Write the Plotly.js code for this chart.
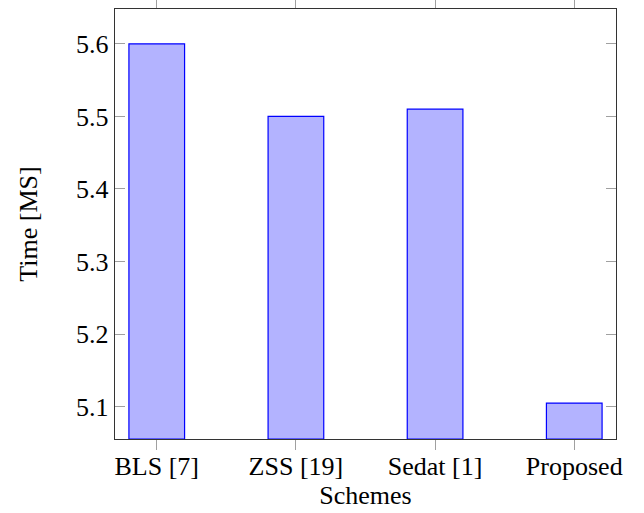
<!DOCTYPE html>
<html>
<head>
<meta charset="utf-8">
<script src="https://cdn.plot.ly/plotly-3.0.1.min.js"></script>
<style>html,body{margin:0;padding:0;background:#fff;}#chart{width:644px;height:513px;}</style>
</head>
<body>
<div id="chart"></div>
<script>
const categories = ["BLS [7]", "ZSS [19]", "Sedat [1]", "Proposed"];
const timeValues = [5.6, 5.5, 5.51, 5.105];
const yTickVals = [5.1, 5.2, 5.3, 5.4, 5.5, 5.6];
const yTickText = ["5.1", "5.2", "5.3", "5.4", "5.5", "5.6"];

const fontFam = '"Liberation Serif", "Times New Roman", serif';
const trace = {
  type: "bar",
  x: [0, 1, 2, 3],
  y: timeValues.map(v => v - 5.0555),
  base: 5.0555,
  width: 0.4,
  marker: {color: "#b3b3ff", line: {color: "#0000ff", width: 1.2}},
  hoverinfo: "skip"
};
const layout = {
  width: 644, height: 513,
  margin: {l: 115, r: 28, t: 9, b: 74},
  paper_bgcolor: "#fff", plot_bgcolor: "#fff",
  showlegend: false,
  font: {family: fontFam, size: 26, color: "#000"},
  xaxis: {
    range: [-0.3, 3.3],
    tickvals: [0, 1, 2, 3],
    ticktext: categories,
    ticks: "outside", ticklen: 10, tickcolor: "#a0a0a0", tickwidth: 1,
    ticklabelstandoff: -6,
    showline: true, linecolor: "#333", linewidth: 1.2, mirror: "ticks",
    showgrid: false, zeroline: false,
    tickfont: {family: fontFam, size: 26},
    title: {text: "Schemes", font: {family: fontFam, size: 26}, standoff: 0}
  },
  yaxis: {
    range: [5.0555, 5.648],
    tickvals: yTickVals,
    ticktext: yTickText,
    ticks: "inside", ticklen: 10, tickcolor: "#a0a0a0", tickwidth: 1,
    showline: true, linecolor: "#333", linewidth: 1.2, mirror: "ticks",
    showgrid: false, zeroline: false,
    tickfont: {family: fontFam, size: 26},
    title: {text: "Time [MS]", font: {family: fontFam, size: 26}, standoff: 31}
  }
};
Plotly.newPlot("chart", [trace], layout, {staticPlot: true, displayModeBar: false});
</script>
</body>
</html>
